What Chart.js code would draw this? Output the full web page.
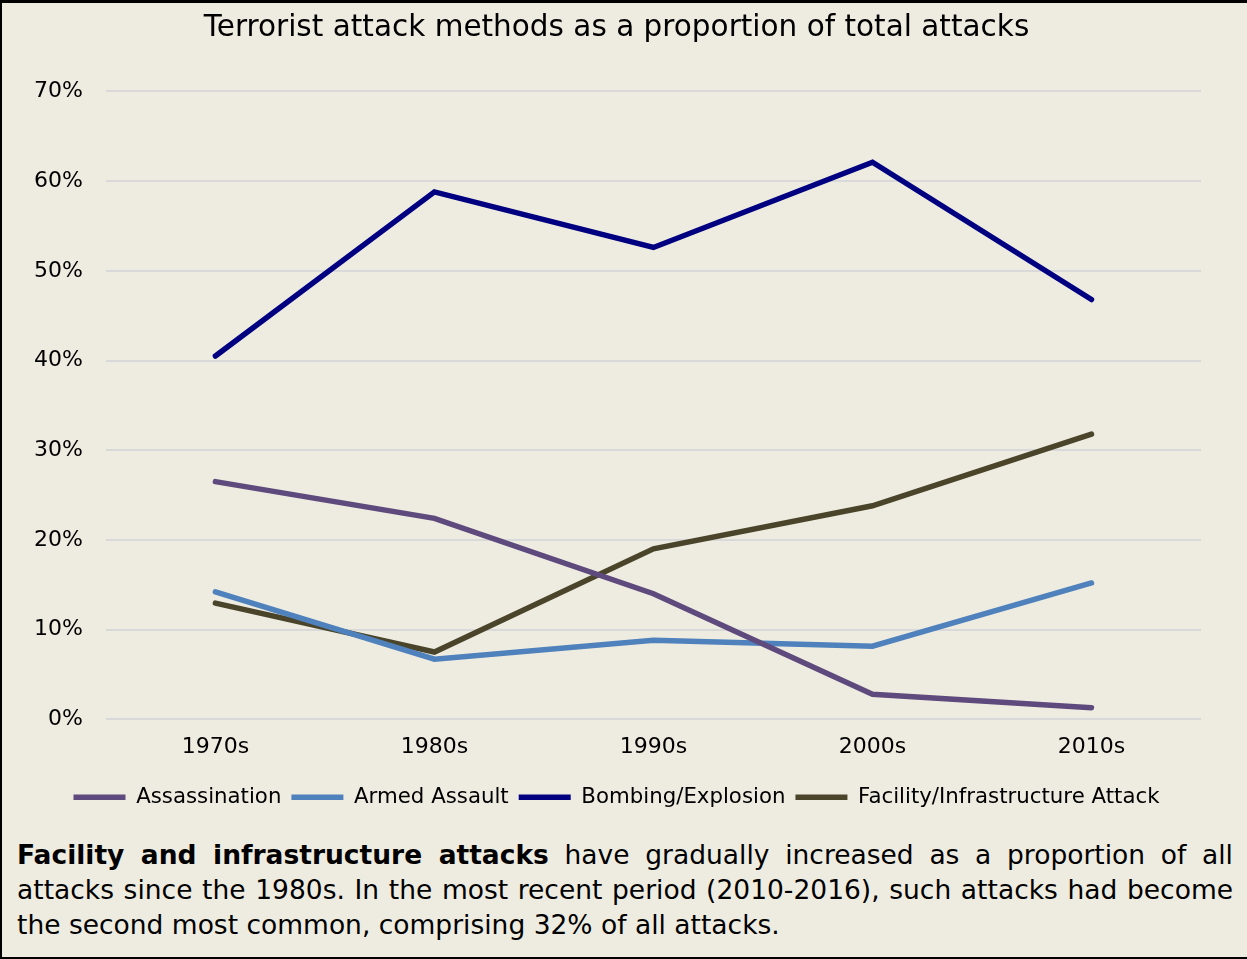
<!DOCTYPE html>
<html>
<head>
<meta charset="utf-8">
<script src="https://cdn.jsdelivr.net/npm/chart.js@4.4.1/dist/chart.umd.min.js"></script>
<style>
  html, body { margin: 0; padding: 0; overflow: hidden; background: #EEECE1; }
  .frame {
    position: absolute; left: 0; top: 0;
    width: 1270px; height: 954px;
    border: 2px solid #000; border-top-width: 3px;
    background: #EEECE1;
    font-family: "DejaVu Sans", Verdana, sans-serif;
  }
  .chart-wrap { position: absolute; left: 0; top: 0; width: 1245px; height: 815px; }
  .caption {
    position: absolute; left: 15px; top: 834px; width: 1216px;
    font-size: 26.5px; line-height: 35px; color: #000;
  }
  .caption div { white-space: nowrap; }
  .caption .full { text-align: justify; text-align-last: justify; }
</style>
</head>
<body>
<div class="frame">
  <div class="chart-wrap"><canvas id="chart"></canvas></div>
  <div class="caption">
    <div class="full"><b>Facility and infrastructure attacks</b> have gradually increased as a proportion of all</div>
    <div class="full">attacks since the 1980s. In the most recent period (2010-2016), such attacks had become</div>
    <div>the second most common, comprising 32% of all attacks.</div>
  </div>
</div>
<script>
const decades = ['1970s', '1980s', '1990s', '2000s', '2010s'];
const assassination = [26.5, 22.4, 14.0, 2.8, 1.3];
const armedAssault = [14.2, 6.7, 8.8, 8.15, 15.2];
const bombing = [40.5, 58.8, 52.6, 62.1, 46.8];
const facility = [12.95, 7.5, 19.0, 23.8, 31.8];

const FONT = '"DejaVu Sans", Verdana, sans-serif';

function series(label, data, color) {
  return {
    label, data,
    borderColor: color, backgroundColor: color,
    borderWidth: 5.5, borderCapStyle: 'round', borderJoinStyle: 'miter',
    pointRadius: 0, pointHoverRadius: 0, tension: 0, fill: false,
  };
}

new Chart(document.getElementById('chart'), {
  type: 'line',
  data: {
    labels: decades,
    datasets: [
      series('Assassination', assassination, '#5F4A7D'),
      series('Armed Assault', armedAssault, '#4F81BD'),
      series('Bombing/Explosion', bombing, '#000080'),
      series('Facility/Infrastructure Attack', facility, '#4A452A'),
    ]
  },
  options: {
    responsive: true,
    maintainAspectRatio: false,
    animation: false,
    layout: { padding: { left: 30, right: 46, top: 4, bottom: 0 } },
    plugins: {
      title: {
        display: true,
        text: 'Terrorist attack methods as a proportion of total attacks',
        color: '#000',
        font: { family: FONT, size: 29.5, weight: 'normal' },
        padding: { top: 4, bottom: 45 },
      },
      legend: {
        position: 'bottom',
        labels: {
          usePointStyle: true,
          pointStyle: 'line',
          pointStyleWidth: 52,
          color: '#000',
          font: { family: FONT, size: 21.3 },
          padding: 10,
        }
      },
      tooltip: { enabled: false },
    },
    scales: {
      x: {
        offset: true,
        grid: { display: false },
        border: { display: false },
        ticks: { color: '#000', font: { family: FONT, size: 22 }, padding: 7 },
        afterFit: s => { s.height += 9; },
      },
      y: {
        min: 0, max: 70,
        grid: { color: '#D9D9D9', lineWidth: 2, drawTicks: false },
        border: { display: false },
        ticks: {
          stepSize: 10, color: '#000', padding: 23,
          font: { family: FONT, size: 22 },
          callback: v => v + '%',
        },
        afterFit: s => { s.width -= 21; },
      }
    }
  }
});
</script>
</body>
</html>
